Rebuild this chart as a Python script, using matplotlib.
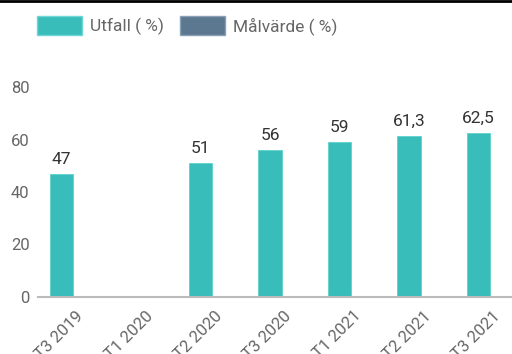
import numpy as np
import matplotlib.pyplot as plt
from matplotlib.patches import Patch

plt.rcParams['font.family'] = ['Roboto', 'DejaVu Sans']

perioder = ['T3 2019', 'T1 2020', 'T2 2020', 'T3 2020', 'T1 2021', 'T2 2021', 'T3 2021']
utfall = [47, None, 51, 56, 59, 61.3, 62.5]
malvarde = [None] * 7

teal = '#38bdbb'
blagra = '#5b7890'
gra = '#666666'

fig = plt.figure(figsize=(5.12, 3.54), dpi=100)
ax = fig.add_axes([38/512, 57/354, 474/512, 210/354])

x = np.arange(len(perioder))
bw = 0.34
for i, v in enumerate(utfall):
    if v is None:
        continue
    ax.bar(x[i] - 0.2, v, width=bw, color=teal, edgecolor='#5fd0cd', linewidth=0.6)
    txt = f'{v:g}'.replace('.', ',')
    ax.annotate(txt, (x[i] - 0.2, v), xytext=(0, 5), textcoords='offset points',
                ha='center', va='bottom', fontsize=12.5, color='#333333')

ax.set_xlim(-0.54, 6.28)
ax.set_ylim(0, 80)
ax.set_yticks([0, 20, 40, 60, 80])
ax.set_xticks(x)
ax.set_xticklabels(perioder, rotation=45, ha='right', rotation_mode='anchor')
ax.tick_params(axis='both', length=0, labelsize=12, colors=gra)
ax.tick_params(axis='x', pad=8)
ax.tick_params(axis='y', pad=6)
for s in ['top', 'right', 'left']:
    ax.spines[s].set_visible(False)
ax.spines['bottom'].set_color('#bbbbbb')
ax.spines['bottom'].set_linewidth(1.5)

# legend at the top
handles = [Patch(facecolor=teal, edgecolor='#6fd6d3', label='Utfall ( %)'),
           Patch(facecolor=blagra, edgecolor='#8aa0b4', label='Målvärde ( %)')]
fig.legend(handles=handles, loc='upper left', bbox_to_anchor=(0.042, 1.0), ncol=2,
           frameon=False, fontsize=12.5, labelcolor=gra, handlelength=2.6,
           handleheight=1.35, handletextpad=0.45, columnspacing=0.9)

# black line along the top
fig.add_artist(plt.Line2D([0, 1], [0.998, 0.998], color='black', linewidth=2,
                          transform=fig.transFigure))

plt.savefig('out.png', dpi=100)
